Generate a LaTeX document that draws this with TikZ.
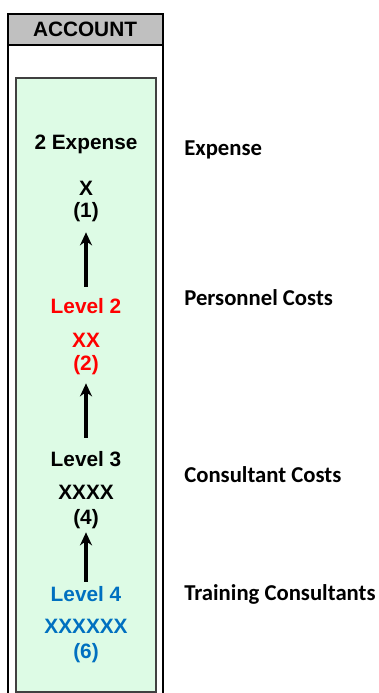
\documentclass[tikz,border=0pt]{standalone}
\usepackage{fontspec}
\setmainfont{Liberation Sans}
\newfontfamily\labelfont{Carlito}
\usepackage{tikz}
\usetikzlibrary{arrows.meta,positioning}

\definecolor{sheetgreen}{RGB}{221,251,229}
\definecolor{headgray}{RGB}{192,192,192}
\definecolor{levelred}{RGB}{255,0,0}
\definecolor{levelblue}{RGB}{0,112,192}

\begin{document}
\begin{tikzpicture}[x=1pt, y=-1pt, >={Stealth[length=13pt,width=12pt]}, semithick,
    code/.style={font=\fontsize{20.8}{24}\selectfont\bfseries, inner sep=0pt, text height=14.9pt, text depth=0pt},
    desc/.style={font=\fontsize{22.7}{27}\selectfont\labelfont\bfseries, inner sep=0pt, anchor=base west},
    rollup/.style={line width=3.2pt}]

    \useasboundingbox (0,0) rectangle (379,693);

    % account column
    \draw[line width=2pt]                                  (8,14)  rectangle (163,700);
    \draw[line width=2pt, fill=headgray]                   (8,14)  rectangle (163,45);
    \draw[line width=1.2pt, draw=black!75, fill=sheetgreen] (16,78) rectangle (156,692);

    \node[code]                    (account)   at (85,29.5)   {ACCOUNT};

    \node[code]                    (expense)   at (86,142)    {2 Expense};
    \node[code]                    (x1)        at (86,188)    {X};
    \node[code]                    (n1)        at (86,210)    {(1)};

    \node[code, text=levelred]     (level2)    at (86,306)    {Level 2};
    \node[code, text=levelred]     (x2)        at (86,340)    {XX};
    \node[code, text=levelred]     (n2)        at (86,363)    {(2)};

    \node[code]                    (level3)    at (86,459.5)  {Level 3};
    \node[code]                    (x3)        at (86,492.5)  {XXXX};
    \node[code]                    (n3)        at (86,517)    {(4)};

    \node[code, text=levelblue]    (level4)    at (86,594)    {Level 4};
    \node[code, text=levelblue]    (x4)        at (86,626)    {XXXXXX};
    \node[code, text=levelblue]    (n4)        at (86,651)    {(6)};

    % account names
    \node[desc]                    (expname)   at (184,155)   {Expense};
    \node[desc]                    (persname)  at (184,305.5) {Personnel Costs};
    \node[desc]                    (consname)  at (184,482.5) {Consultant Costs};
    \node[desc]                    (trainname) at (184,600)   {Training Consultants};

    \path[->, rollup]   (level2)   edge   [shorten <=11.6pt, shorten >=14.6pt]   (n1)
                        (level3)   edge   [shorten <=14.1pt, shorten >=12.6pt]   (n2)
                        (level4)   edge   [shorten <=4.6pt,  shorten >=7.6pt]    (n3);

\end{tikzpicture}
\end{document}
